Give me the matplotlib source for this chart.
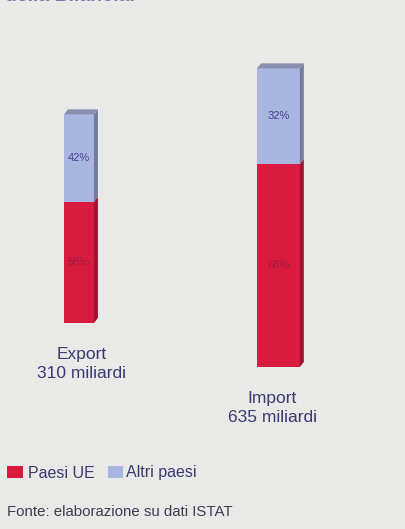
import numpy as np
import matplotlib
matplotlib.use('Agg')
import matplotlib.pyplot as plt
from matplotlib.patches import Rectangle, Polygon

# data
categories = ['Export', 'Import']
totals = [310, 635]            # miliardi
share_ue = [58, 68]            # % Paesi UE
share_altri = [42, 32]         # % Altri paesi
legend_labels = ['Paesi UE', 'Altri paesi']
source_text = 'Fonte: elaborazione su dati ISTAT'

# layout (pixel coordinates, origin top-left)
W, H = 406, 529
bar_left = [64, 257]
bar_base = [323, 367]
h_scale = 11.85     # height ~ sqrt(value): area proportional
w_scale = 1.70
depth_x, depth_y = 4, 5

red = '#d81b3e'
red_side = '#9c1430'
blue = '#a9b6e2'
blue_side = '#767c9c'
top_col = '#8a8fb0'
navy = '#3a3a72'
bg = '#e9e9e7'

plt.rcParams['font.family'] = ['Liberation Sans', 'DejaVu Sans']

fig = plt.figure(figsize=(W / 100, H / 100), dpi=100, facecolor=bg)
ax = fig.add_axes([0, 0, 1, 1])
ax.set_xlim(0, W)
ax.set_ylim(H, 0)
ax.axis('off')
ax.set_facecolor(bg)

# clipped title at top
ax.text(5, 1, 'della Bilancia.', color='#7a78b4', fontsize=14,
        ha='left', va='baseline', fontweight='bold')

for i, cat in enumerate(categories):
    h = h_scale * np.sqrt(totals[i])
    w = w_scale * np.sqrt(totals[i])
    x0 = bar_left[i]
    yb = bar_base[i]
    h_ue = h * share_ue[i] / 100
    h_al = h * share_altri[i] / 100
    y_split = yb - h_ue
    y_top = yb - h

    # front faces
    ax.add_patch(Rectangle((x0, y_split), w, h_ue, facecolor=red, edgecolor='none'))
    ax.add_patch(Rectangle((x0, y_top), w, h_al, facecolor=blue, edgecolor='none'))
    # side faces
    ax.add_patch(Polygon([(x0 + w, yb), (x0 + w + depth_x, yb - depth_y),
                          (x0 + w + depth_x, y_split - depth_y), (x0 + w, y_split)],
                         facecolor=red_side, edgecolor='none'))
    ax.add_patch(Polygon([(x0 + w, y_split), (x0 + w + depth_x, y_split - depth_y),
                          (x0 + w + depth_x, y_top - depth_y), (x0 + w, y_top)],
                         facecolor=blue_side, edgecolor='none'))
    # top face
    ax.add_patch(Polygon([(x0, y_top), (x0 + depth_x, y_top - depth_y),
                          (x0 + w + depth_x, y_top - depth_y), (x0 + w, y_top)],
                         facecolor=top_col, edgecolor='none'))

    ax.text(x0 + w / 2, y_split + h_ue / 2, f'{share_ue[i]}%', color='#a01a40',
            fontsize=8, ha='center', va='center')
    ax.text(x0 + w / 2, y_top + h_al / 2, f'{share_altri[i]}%', color='#44448a',
            fontsize=8, ha='center', va='center')

    # category label under bar
    cx = x0 + w / 2 + (3 if i == 0 else -6)
    ax.text(cx, yb + 32, cat, color=navy, fontsize=12.5, ha='center', va='center')
    ax.text(cx, yb + 50, f'{totals[i]} miliardi', color=navy, fontsize=12.5,
            ha='center', va='center')

# legend
ax.add_patch(Rectangle((7, 466), 16, 12, facecolor=red, edgecolor='none'))
ax.text(28, 473, legend_labels[0], color=navy, fontsize=11.5, ha='left', va='center')
ax.add_patch(Rectangle((108, 466), 15, 12, facecolor=blue, edgecolor='none'))
ax.text(126, 473, legend_labels[1], color=navy, fontsize=11.5, ha='left', va='center')

ax.text(7, 512, source_text, color='#3c3c50', fontsize=10.8, ha='left', va='center')

fig.savefig('out.png', dpi=100, facecolor=bg)
